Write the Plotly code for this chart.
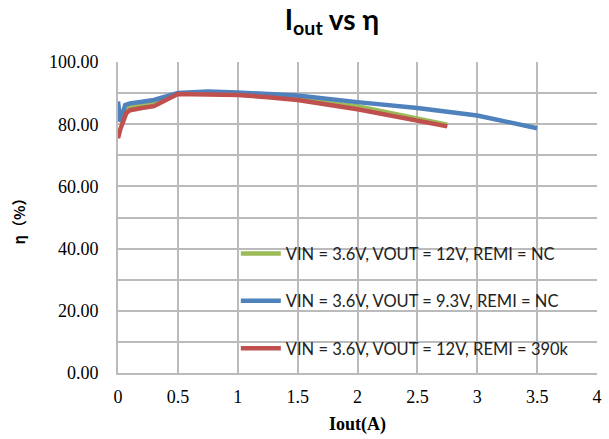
import plotly.graph_objects as go

# Series data
green_x = [0.02, 0.06, 0.1, 0.2, 0.3, 0.5, 0.75, 1.0, 1.25, 1.5, 2.0, 2.5, 2.75]
green_y = [80.5, 84.5, 85.5, 86.2, 86.6, 89.8, 90.0, 89.8, 89.0, 88.0, 85.8, 81.8, 79.8]

blue_x = [0, 0.02, 0.06, 0.1, 0.2, 0.3, 0.5, 0.75, 1.0, 1.25, 1.5, 2.0, 2.5, 3.0, 3.5]
blue_y = [87.3, 80.9, 86.2, 86.7, 87.2, 87.8, 90.0, 90.5, 90.2, 89.7, 89.2, 87.1, 85.2, 82.8, 78.7]

red_x = [0, 0.02, 0.07, 0.1, 0.2, 0.3, 0.5, 0.75, 1.0, 1.25, 1.5, 2.0, 2.5, 2.75]
red_y = [75.5, 78.5, 83.6, 84.5, 85.2, 85.8, 89.7, 89.6, 89.4, 88.7, 87.8, 84.8, 80.9, 79.3]

names = [
    "VIN = 3.6V, VOUT = 12V, REMI = NC",
    "VIN = 3.6V, VOUT = 9.3V, REMI = NC",
    "VIN = 3.6V, VOUT = 12V, REMI = 390k",
]
colors = ["#9BBB59", "#4F81BD", "#C0504D"]

# y gridlines every 10, labels only every 20
hidden_y_labels = {"%.2f" % v: "" for v in [10, 30, 50, 70, 90]}

fig = go.Figure()
for i, (xs, ys) in enumerate([(green_x, green_y), (blue_x, blue_y), (red_x, red_y)]):
    fig.add_trace(go.Scatter(
        x=xs, y=ys, mode="lines", name=names[i],
        line=dict(color=colors[i], width=4.5),
        legendgroup="g%d" % i,
    ))

grid = "#BBBBBB"
fig.update_layout(
    width=609, height=439,
    margin=dict(l=118, r=7, t=62, b=66),
    paper_bgcolor="white", plot_bgcolor="white",
    title=dict(
        text="<b>I<sub>out</sub> vs η</b>",
        x=0.545, xanchor="center", y=0.955, yanchor="middle",
        font=dict(family="Lato, Open Sans, sans-serif", size=28, color="black"),
    ),
    legend=dict(
        x=0.246, y=0.44, xanchor="left", yanchor="top",
        bgcolor="rgba(0,0,0,0)",
        font=dict(family="Lato, Open Sans, sans-serif", size=16.5, color="#222"),
        tracegroupgap=23, itemwidth=40,
    ),
    xaxis=dict(
        range=[0, 4], tickmode="linear", tick0=0, dtick=0.5,
        showgrid=True, gridcolor=grid, gridwidth=2,
        showline=True, linecolor=grid, linewidth=2,
        zeroline=False, ticks="", ticklabelstandoff=6,
        tickfont=dict(family="Liberation Serif, serif", size=18, color="black"),
        title=dict(text="<b>Iout(A)</b>", standoff=12,
                   font=dict(family="Liberation Serif, serif", size=18, color="black")),
    ),
    yaxis=dict(
        range=[0, 100], tickmode="linear", tick0=0, dtick=10, tickformat=".2f",
        labelalias=hidden_y_labels,
        showgrid=True, gridcolor=grid, gridwidth=2,
        showline=True, linecolor=grid, linewidth=2,
        zeroline=False, ticks="outside", ticklen=14, tickcolor="rgba(0,0,0,0)",
        tickfont=dict(family="Liberation Serif, serif", size=18, color="black"),
        title=dict(text="<b>η（%）</b>", standoff=20,
                   font=dict(family="Noto Sans CJK SC, sans-serif", size=15, color="black")),
    ),
)

fig.write_html("out.html", post_script="document.body.style.margin='0';",
               config={"displayModeBar": False})
